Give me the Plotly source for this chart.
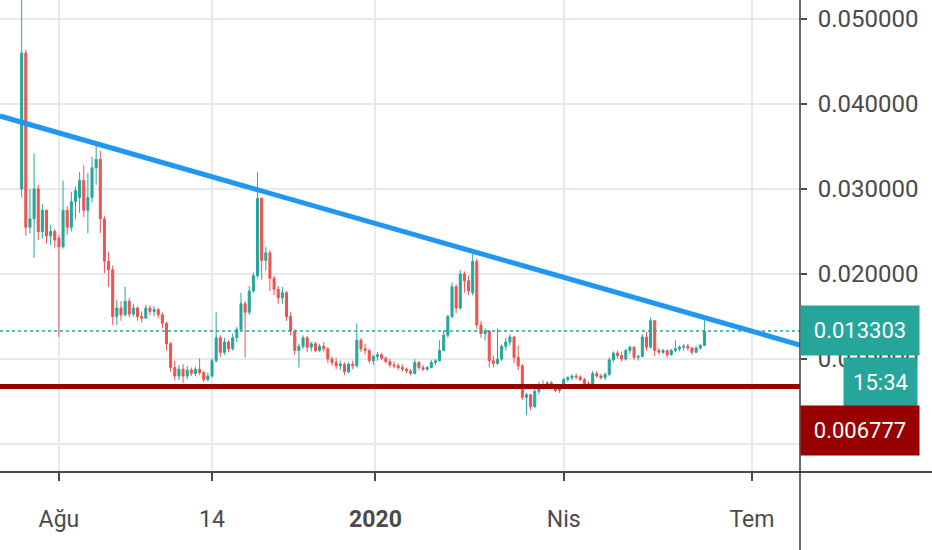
import pandas as pd
import plotly.graph_objects as go

# 2-day candles
dates = pd.date_range("2019-07-14", periods=166, freq="2D")

opens = [
    0.0300, 0.0460, 0.0255, 0.0265, 0.0300, 0.0250, 0.0275, 0.0245, 0.0250, 0.0242,
    0.0232, 0.0275, 0.0255, 0.0285, 0.0290, 0.0310, 0.0275, 0.0290, 0.0325, 0.0335,
    0.0265, 0.0215, 0.0205, 0.0150, 0.0160, 0.0152, 0.0168, 0.0153, 0.0160, 0.0150,
    0.0148, 0.0160, 0.0156, 0.0158, 0.0152, 0.0142, 0.0118, 0.0090, 0.0080, 0.0088,
    0.0080, 0.0087, 0.0083, 0.0088, 0.0084, 0.0076, 0.0080, 0.0098, 0.0125, 0.0108,
    0.0120, 0.0112, 0.0125, 0.0135, 0.0165, 0.0155, 0.0180, 0.0198, 0.0289, 0.0216,
    0.0225, 0.0195, 0.0182, 0.0172, 0.0178, 0.0150, 0.0133, 0.0110, 0.0115, 0.0125,
    0.0114, 0.0118, 0.0110, 0.0115, 0.0112, 0.0100, 0.0096, 0.0092, 0.0094, 0.0085,
    0.0094, 0.0092, 0.0122, 0.0112, 0.0110, 0.0098, 0.0103, 0.0105, 0.0101, 0.0097,
    0.0093, 0.0092, 0.0090, 0.0088, 0.0086, 0.0083, 0.0096, 0.0090, 0.0088, 0.0090,
    0.0096, 0.0098, 0.0110, 0.0128, 0.0150, 0.0185, 0.0160, 0.0200, 0.0192, 0.0178,
    0.0215, 0.0140, 0.0130, 0.0133, 0.0098, 0.0095, 0.0100, 0.0115, 0.0120, 0.0126,
    0.0102, 0.0092, 0.0055, 0.0058, 0.0044, 0.0062, 0.0070, 0.0068, 0.0072, 0.0067,
    0.0063, 0.0066, 0.0076, 0.0078, 0.0080, 0.0079, 0.0076, 0.0071, 0.0069, 0.0083,
    0.0080, 0.0078, 0.0082, 0.0099, 0.0107, 0.0104, 0.0100, 0.0110, 0.0114, 0.0102,
    0.0103, 0.0126, 0.0114, 0.0145, 0.0110, 0.0108, 0.0110, 0.0105, 0.0110, 0.0112,
    0.0114, 0.0115, 0.0113, 0.0108, 0.0113, 0.0116,
]
highs = [
    0.0560, 0.0464, 0.0300, 0.0342, 0.0305, 0.0282, 0.0276, 0.0258, 0.0253, 0.0246,
    0.0310, 0.0280, 0.0297, 0.0303, 0.0320, 0.0328, 0.0319, 0.0338, 0.0354, 0.0345,
    0.0268, 0.0226, 0.0210, 0.0170, 0.0168, 0.0185, 0.0172, 0.0165, 0.0162, 0.0156,
    0.0164, 0.0163, 0.0162, 0.0160, 0.0155, 0.0144, 0.0120, 0.0098, 0.0093, 0.0094,
    0.0092, 0.0090, 0.0091, 0.0101, 0.0086, 0.0084, 0.0101, 0.0155, 0.0128, 0.0125,
    0.0122, 0.0130, 0.0138, 0.0178, 0.0168, 0.0186, 0.0202, 0.0320, 0.0290, 0.0232,
    0.0228, 0.0198, 0.0186, 0.0185, 0.0180, 0.0155, 0.0135, 0.0118, 0.0128, 0.0127,
    0.0120, 0.0120, 0.0118, 0.0120, 0.0114, 0.0103, 0.0101, 0.0098, 0.0096, 0.0096,
    0.0098, 0.0142, 0.0125, 0.0118, 0.0112, 0.0105, 0.0108, 0.0107, 0.0103, 0.0100,
    0.0097, 0.0095, 0.0094, 0.0090, 0.0088, 0.0100, 0.0098, 0.0093, 0.0092, 0.0099,
    0.0100, 0.0122, 0.0134, 0.0152, 0.0190, 0.0188, 0.0205, 0.0203, 0.0198, 0.0228,
    0.0218, 0.0145, 0.0136, 0.0134, 0.0104, 0.0136, 0.0117, 0.0125, 0.0129, 0.0127,
    0.0116, 0.0094, 0.0060, 0.0059, 0.0065, 0.0073, 0.0075, 0.0074, 0.0074, 0.0069,
    0.0068, 0.0078, 0.0080, 0.0082, 0.0083, 0.0081, 0.0078, 0.0074, 0.0086, 0.0086,
    0.0083, 0.0084, 0.0102, 0.0109, 0.0110, 0.0109, 0.0112, 0.0116, 0.0115, 0.0105,
    0.0129, 0.0132, 0.0149, 0.0146, 0.0113, 0.0112, 0.0111, 0.0112, 0.0122, 0.0116,
    0.0118, 0.0118, 0.0114, 0.0115, 0.0118, 0.0146,
]
lows = [
    0.0290, 0.0245, 0.0248, 0.0219, 0.0240, 0.0242, 0.0236, 0.0234, 0.0231, 0.0126,
    0.0230, 0.0246, 0.0250, 0.0265, 0.0272, 0.0267, 0.0248, 0.0284, 0.0305, 0.0248,
    0.0201, 0.0185, 0.0140, 0.0140, 0.0145, 0.0150, 0.0149, 0.0150, 0.0145, 0.0143,
    0.0148, 0.0152, 0.0150, 0.0148, 0.0136, 0.0110, 0.0085, 0.0075, 0.0075, 0.0072,
    0.0076, 0.0080, 0.0080, 0.0081, 0.0073, 0.0074, 0.0078, 0.0096, 0.0102, 0.0105,
    0.0108, 0.0110, 0.0120, 0.0132, 0.0102, 0.0152, 0.0178, 0.0195, 0.0193, 0.0204,
    0.0180, 0.0175, 0.0165, 0.0165, 0.0145, 0.0128, 0.0105, 0.0090, 0.0112, 0.0108,
    0.0109, 0.0108, 0.0108, 0.0109, 0.0095, 0.0092, 0.0088, 0.0087, 0.0081, 0.0083,
    0.0088, 0.0090, 0.0108, 0.0105, 0.0095, 0.0093, 0.0098, 0.0099, 0.0095, 0.0090,
    0.0089, 0.0087, 0.0085, 0.0083, 0.0081, 0.0082, 0.0087, 0.0086, 0.0086, 0.0089,
    0.0093, 0.0097, 0.0109, 0.0125, 0.0148, 0.0154, 0.0158, 0.0178, 0.0175, 0.0175,
    0.0135, 0.0125, 0.0122, 0.0090, 0.0090, 0.0093, 0.0098, 0.0110, 0.0116, 0.0095,
    0.0087, 0.0052, 0.0034, 0.0040, 0.0042, 0.0058, 0.0064, 0.0065, 0.0065, 0.0061,
    0.0060, 0.0065, 0.0073, 0.0075, 0.0076, 0.0074, 0.0068, 0.0067, 0.0068, 0.0078,
    0.0076, 0.0075, 0.0080, 0.0096, 0.0101, 0.0097, 0.0098, 0.0106, 0.0099, 0.0098,
    0.0102, 0.0110, 0.0112, 0.0103, 0.0105, 0.0106, 0.0102, 0.0104, 0.0108, 0.0109,
    0.0110, 0.0110, 0.0105, 0.0107, 0.0111, 0.0115,
]
closes = [
    0.0460, 0.0255, 0.0265, 0.0300, 0.0250, 0.0275, 0.0245, 0.0250, 0.0240, 0.0232,
    0.0275, 0.0255, 0.0285, 0.0298, 0.0310, 0.0275, 0.0290, 0.0325, 0.0335, 0.0265,
    0.0215, 0.0205, 0.0150, 0.0160, 0.0152, 0.0168, 0.0153, 0.0160, 0.0150, 0.0148,
    0.0160, 0.0156, 0.0158, 0.0152, 0.0142, 0.0118, 0.0090, 0.0080, 0.0088, 0.0080,
    0.0087, 0.0083, 0.0088, 0.0084, 0.0076, 0.0080, 0.0098, 0.0125, 0.0108, 0.0120,
    0.0112, 0.0125, 0.0135, 0.0165, 0.0155, 0.0180, 0.0198, 0.0289, 0.0216, 0.0225,
    0.0195, 0.0182, 0.0172, 0.0178, 0.0150, 0.0133, 0.0110, 0.0115, 0.0125, 0.0114,
    0.0118, 0.0110, 0.0115, 0.0112, 0.0100, 0.0096, 0.0092, 0.0094, 0.0085, 0.0094,
    0.0092, 0.0122, 0.0112, 0.0110, 0.0098, 0.0103, 0.0105, 0.0101, 0.0097, 0.0093,
    0.0092, 0.0090, 0.0088, 0.0086, 0.0083, 0.0096, 0.0090, 0.0088, 0.0090, 0.0096,
    0.0098, 0.0110, 0.0128, 0.0150, 0.0185, 0.0160, 0.0200, 0.0192, 0.0180, 0.0215,
    0.0140, 0.0130, 0.0133, 0.0098, 0.0095, 0.0100, 0.0115, 0.0120, 0.0126, 0.0102,
    0.0092, 0.0055, 0.0058, 0.0044, 0.0062, 0.0070, 0.0068, 0.0072, 0.0067, 0.0063,
    0.0066, 0.0076, 0.0078, 0.0080, 0.0079, 0.0076, 0.0071, 0.0069, 0.0083, 0.0080,
    0.0078, 0.0082, 0.0099, 0.0107, 0.0104, 0.0100, 0.0110, 0.0114, 0.0102, 0.0103,
    0.0126, 0.0114, 0.0145, 0.0110, 0.0108, 0.0110, 0.0105, 0.0110, 0.0112, 0.0114,
    0.0115, 0.0113, 0.0108, 0.0113, 0.0116, 0.013303,
]

last_price = 0.013303
support_price = 0.006777
countdown = "15:34"

# hand-drawn trend line (two anchor points)
trend_x = ["2019-07-03 12:00", "2020-07-24 05:00"]
trend_y = [0.03859, 0.01165]

x_tick_vals = ["2019-08-01", "2019-10-14", "2020-01-01", "2020-04-01", "2020-07-01"]
x_tick_text = ["Ağu", "14", "<b>2020</b>", "Nis", "Tem"]
y_tick_vals = [0.0, 0.01, 0.02, 0.03, 0.04, 0.05]

UP = "#26a69a"
DOWN = "#ef5350"
SUPPORT = "#990000"
TREND = "#2196f3"
GRID = "#e6e9ed"
AXIS = "#4a4a4a"
FONT = "Roboto, sans-serif"

fig = go.Figure()
fig.add_trace(go.Candlestick(
    x=dates, open=opens, high=highs, low=lows, close=closes,
    increasing=dict(line=dict(color=UP, width=1), fillcolor=UP),
    decreasing=dict(line=dict(color=DOWN, width=1), fillcolor=DOWN),
    whiskerwidth=0, hoverinfo="skip", showlegend=False,
))
fig.add_trace(go.Scatter(
    x=trend_x, y=trend_y, mode="lines",
    line=dict(color=TREND, width=5), hoverinfo="skip", showlegend=False,
))

# price lines
fig.add_shape(type="line", xref="paper", x0=0, x1=1, yref="y",
              y0=last_price, y1=last_price, layer="above",
              line=dict(color=UP, width=1.5, dash="dot"))
fig.add_shape(type="line", xref="paper", x0=0, x1=1, yref="y",
              y0=support_price, y1=support_price, layer="above",
              line=dict(color=SUPPORT, width=5))

# axis frame lines reaching into the margins
fig.add_shape(type="line", xref="paper", yref="paper", x0=0, x1=932 / 800,
              y0=0, y1=0, line=dict(color=AXIS, width=2))
fig.add_shape(type="line", xref="paper", yref="paper", x0=1, x1=1,
              y0=-78 / 472, y1=1, line=dict(color="#333333", width=1.5))

label_font = dict(family=FONT, size=22, color="white")
fig.add_annotation(x=1, xref="paper", xanchor="left", y=last_price, yref="y",
                   text=f"{last_price:.6f}", showarrow=False, bgcolor=UP,
                   font=label_font, width=112, height=43, borderpad=3)
fig.add_annotation(x=918 / 800, xref="paper", xanchor="right", y=last_price, yref="y",
                   yshift=-52, text=countdown, showarrow=False, bgcolor=UP,
                   font=label_font, width=67, height=43, borderpad=3)
fig.add_annotation(x=1, xref="paper", xanchor="left", y=support_price, yref="y",
                   yshift=-44, text=f"{support_price:.6f}", showarrow=False,
                   bgcolor=SUPPORT, font=label_font, width=112, height=43, borderpad=3)

fig.update_layout(
    width=932, height=550,
    margin=dict(l=0, r=132, t=0, b=78),
    paper_bgcolor="white", plot_bgcolor="white",
    showlegend=False,
    xaxis=dict(
        type="date", range=["2019-07-03 12:30", "2020-07-24 05:00"],
        rangeslider=dict(visible=False),
        tickvals=x_tick_vals, ticktext=x_tick_text,
        showgrid=True, gridcolor=GRID, gridwidth=1.5,
        ticks="outside", ticklen=8, tickcolor=AXIS, tickwidth=1.5,
        ticklabelstandoff=18,
        tickfont=dict(family=FONT, size=23, color=AXIS),
        showline=False, zeroline=False,
    ),
    yaxis=dict(
        side="right", range=[-0.00329, 0.05224],
        tickvals=y_tick_vals, tickformat=".6f",
        showgrid=True, gridcolor=GRID, gridwidth=1.5,
        ticks="outside", ticklen=6, tickcolor=AXIS, tickwidth=1.5,
        ticklabelstandoff=6,
        tickfont=dict(family=FONT, size=24, color=AXIS),
        showline=False, zeroline=False,
    ),
)

fig.write_html("out.html", config={"displayModeBar": False},
               post_script="document.body.style.margin='0';")
